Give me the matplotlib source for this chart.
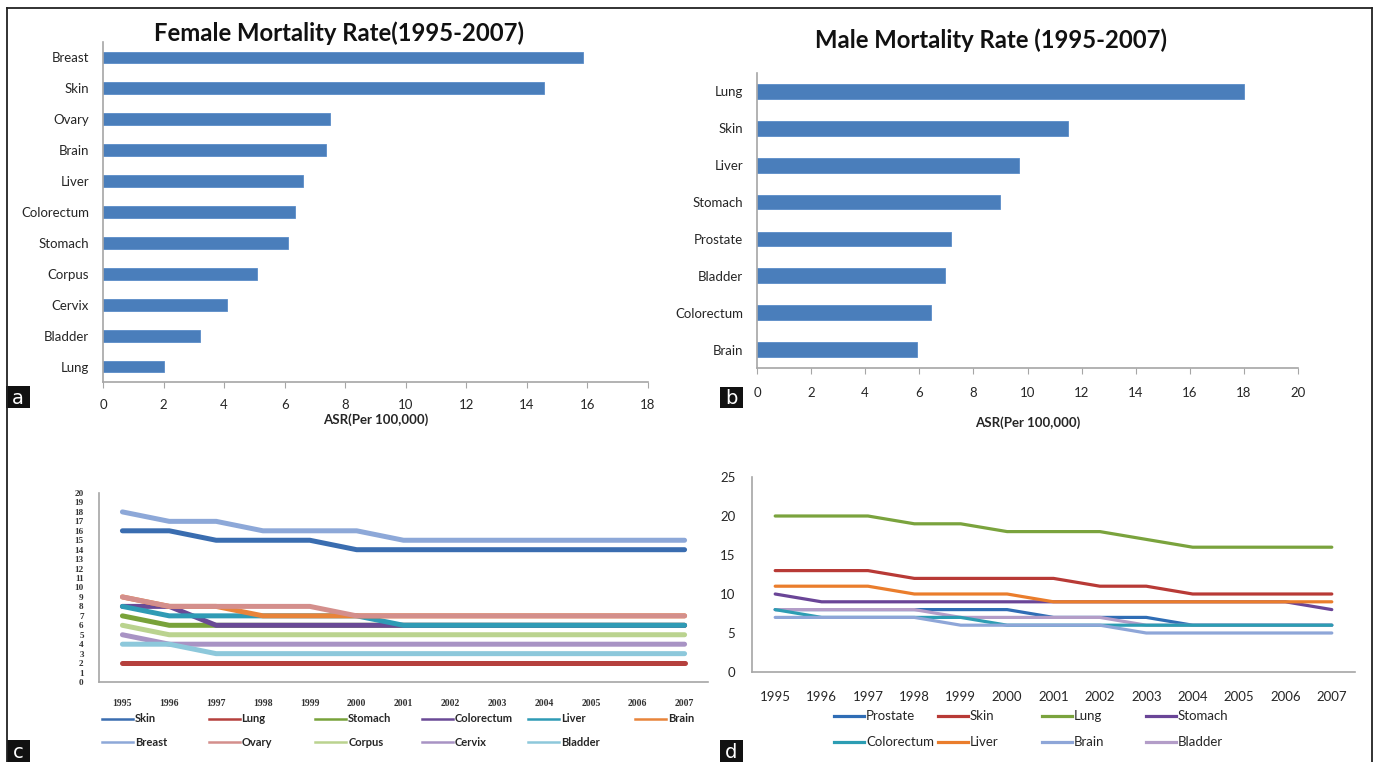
import matplotlib
matplotlib.use("Agg")
import matplotlib.pyplot as plt
from matplotlib.lines import Line2D
from matplotlib.patches import Rectangle

# ---------------- data ----------------
fem_sites = ["Breast", "Skin", "Ovary", "Brain", "Liver", "Colorectum", "Stomach",
             "Corpus", "Cervix", "Bladder", "Lung"]
fem_asr = [15.85, 14.55, 7.5, 7.35, 6.6, 6.35, 6.1, 5.1, 4.1, 3.2, 2.02]

male_sites = ["Lung", "Skin", "Liver", "Stomach", "Prostate", "Bladder", "Colorectum", "Brain"]
male_asr = [18.0, 11.5, 9.7, 9.0, 7.18, 6.95, 6.45, 5.92]

years = ["1995", "1996", "1997", "1998", "1999", "2000", "2001", "2002", "2003",
         "2004", "2005", "2006", "2007"]

fem_trend_names = ["Skin", "Lung", "Stomach", "Colorectum", "Liver", "Brain",
                   "Breast", "Ovary", "Corpus", "Cervix", "Bladder"]
c_skin = [16, 16, 15, 15, 15, 14, 14, 14, 14, 14, 14, 14, 14]
c_lung = [2, 2, 2, 2, 2, 2, 2, 2, 2, 2, 2, 2, 2]
c_stomach = [7, 6, 6, 6, 6, 6, 6, 6, 6, 6, 6, 6, 6]
c_colorectum = [8, 8, 6, 6, 6, 6, 6, 6, 6, 6, 6, 6, 6]
c_liver = [8, 7, 7, 7, 7, 7, 6, 6, 6, 6, 6, 6, 6]
c_brain = [9, 8, 8, 7, 7, 7, 7, 7, 7, 7, 7, 7, 7]
c_breast = [18, 17, 17, 16, 16, 16, 15, 15, 15, 15, 15, 15, 15]
c_ovary = [9, 8, 8, 8, 8, 7, 7, 7, 7, 7, 7, 7, 7]
c_corpus = [6, 5, 5, 5, 5, 5, 5, 5, 5, 5, 5, 5, 5]
c_cervix = [5, 4, 4, 4, 4, 4, 4, 4, 4, 4, 4, 4, 4]
c_bladder = [4, 4, 3, 3, 3, 3, 3, 3, 3, 3, 3, 3, 3]
fem_trend = [c_skin, c_lung, c_stomach, c_colorectum, c_liver, c_brain,
             c_breast, c_ovary, c_corpus, c_cervix, c_bladder]

male_trend_names = ["Prostate", "Skin", "Lung", "Stomach", "Colorectum", "Liver",
                    "Brain", "Bladder"]
d_prostate = [8, 8, 8, 8, 8, 8, 7, 7, 7, 6, 6, 6, 6]
d_skin = [13, 13, 13, 12, 12, 12, 12, 11, 11, 10, 10, 10, 10]
d_lung = [20, 20, 20, 19, 19, 18, 18, 18, 17, 16, 16, 16, 16]
d_stomach = [10, 9, 9, 9, 9, 9, 9, 9, 9, 9, 9, 9, 8]
d_colorectum = [8, 7, 7, 7, 7, 6, 6, 6, 6, 6, 6, 6, 6]
d_liver = [11, 11, 11, 10, 10, 10, 9, 9, 9, 9, 9, 9, 9]
d_brain = [7, 7, 7, 7, 6, 6, 6, 6, 5, 5, 5, 5, 5]
d_bladder = [8, 8, 8, 8, 7, 7, 7, 7, 6, 6, 6, 6, 6]
male_trend = [d_prostate, d_skin, d_lung, d_stomach, d_colorectum, d_liver,
              d_brain, d_bladder]

# ---------------- styles ----------------
W, H = 1376, 762
BAR = "#4A7EBB"
AXC = "#A6A6A6"
TXT = "#262626"
c_colors = ["#3A6DB0", "#B5403D", "#78A23A", "#6A4A96", "#2F9BB5", "#E8843A",
            "#8DA8D8", "#D48F8C", "#BAD38F", "#A893C4", "#8DC8DB"]
d_colors = ["#2F6DB5", "#B83A36", "#7AA33D", "#6A4597", "#2C9DB3", "#EA7D2C",
            "#8EA6D8", "#B39DC8"]
d_zorders = [2.0, 2.1, 2.2, 2.3, 2.6, 2.7, 2.8, 2.5]

plt.rcParams["font.family"] = ["Lato", "DejaVu Sans"]

fig = plt.figure(figsize=(W / 100, H / 100), dpi=100)
fig.patch.set_facecolor("white")


def rect(l, t, r, b):
    return [l / W, 1 - b / H, (r - l) / W, (b - t) / H]


def fx(x):
    return x / W


def fy(y):
    return 1 - y / H


def style_axes(ax):
    for s in ["top", "right"]:
        ax.spines[s].set_visible(False)
    for s in ["left", "bottom"]:
        ax.spines[s].set_color(AXC)
        ax.spines[s].set_linewidth(1.2)


# ---------------- panel a ----------------
axa = fig.add_axes(rect(103, 42, 648, 382))
ya = list(range(len(fem_sites)))
axa.barh(ya, fem_asr, height=0.38, color=BAR, edgecolor="#5B8CC8", linewidth=0.6)
axa.set_ylim(len(fem_sites) - 0.5, -0.5)
axa.set_yticks(ya)
axa.set_yticklabels(fem_sites, fontsize=9.5, color=TXT)
axa.set_xlim(0, 18)
axa.set_xticks(range(0, 19, 2))
axa.tick_params(axis="x", length=4, color=AXC, pad=8, labelsize=9.5, labelcolor=TXT)
axa.tick_params(axis="y", length=0, pad=10)
style_axes(axa)
axa.set_xlabel("ASR(Per 100,000)", fontsize=9.5, fontweight="bold", color=TXT, labelpad=2)
fig.text(fx(339), fy(33), "Female Mortality Rate(1995-2007)", ha="center", va="center",
         fontsize=17.2, fontweight="bold", color="#111111")

# ---------------- panel b ----------------
axb = fig.add_axes(rect(757, 73, 1298, 368))
yb = list(range(len(male_sites)))
axb.barh(yb, male_asr, height=0.40, color=BAR, edgecolor="#5B8CC8", linewidth=0.6)
axb.set_ylim(len(male_sites) - 0.5, -0.5)
axb.set_yticks(yb)
axb.set_yticklabels(male_sites, fontsize=9.5, color=TXT)
axb.set_xlim(0, 20)
axb.set_xticks(range(0, 21, 2))
axb.tick_params(axis="x", length=4, color=AXC, pad=10, labelsize=9.5, labelcolor=TXT)
axb.tick_params(axis="y", length=0, pad=10)
style_axes(axb)
axb.set_xlabel("ASR(Per 100,000)", fontsize=9.5, fontweight="bold", color=TXT, labelpad=12)
fig.text(fx(991), fy(40), "Male Mortality Rate (1995-2007)", ha="center", va="center",
         fontsize=17.2, fontweight="bold", color="#111111")

# ---------------- panel c ----------------
axc = fig.add_axes(rect(99, 493, 708, 682))
xc = list(range(len(years)))
for name, vals, col in zip(fem_trend_names, fem_trend, c_colors):
    axc.plot(xc, vals, color=col, linewidth=3.6, solid_capstyle="round",
             solid_joinstyle="round", label=name)
axc.set_xlim(-0.5, len(years) - 0.5)
axc.set_ylim(0, 20)
axc.set_xticks(xc)
axc.set_xticklabels(years)
axc.set_yticks(range(0, 21))
axc.tick_params(axis="both", length=0)
axc.tick_params(axis="x", pad=12)
axc.tick_params(axis="y", pad=11)
for lab in axc.get_xticklabels() + axc.get_yticklabels():
    lab.set_fontfamily("Liberation Serif")
    lab.set_fontweight("bold")
    lab.set_color("#333333")
for lab in axc.get_xticklabels():
    lab.set_fontsize(7)
for lab in axc.get_yticklabels():
    lab.set_fontsize(6.6)
style_axes(axc)

# legend c (manual, 6 columns x 2 rows)
for i, (name, col) in enumerate(zip(fem_trend_names, c_colors)):
    row, colidx = divmod(i, 6)
    x0 = 102 + colidx * 106.6
    yy = 719 + row * 23
    fig.add_artist(Line2D([fx(x0), fx(x0 + 31)], [fy(yy), fy(yy)], color=col,
                          linewidth=1.8, transform=fig.transFigure))
    fig.text(fx(x0 + 33), fy(yy), name, ha="left", va="center", fontsize=8,
             fontweight="bold", color=TXT)

# ---------------- panel d ----------------
axd = fig.add_axes(rect(752, 477, 1355, 672))
xd = list(range(len(years)))
for name, vals, col, z in zip(male_trend_names, male_trend, d_colors, d_zorders):
    axd.plot(xd, vals, color=col, linewidth=2.3, solid_capstyle="round",
             solid_joinstyle="round", label=name, zorder=z)
axd.set_xlim(-0.5, len(years) - 0.5)
axd.set_ylim(0, 25)
axd.set_xticks(xd)
axd.set_xticklabels(years)
axd.set_yticks(range(0, 26, 5))
axd.tick_params(axis="both", length=0, labelsize=9.5, labelcolor=TXT)
axd.tick_params(axis="x", pad=14)
axd.tick_params(axis="y", pad=12)
style_axes(axd)

for i, (name, col) in enumerate(zip(male_trend_names, d_colors)):
    row, colidx = divmod(i, 4)
    x0 = 834 + colidx * 104
    yy = 716 + row * 26
    fig.add_artist(Line2D([fx(x0), fx(x0 + 30)], [fy(yy), fy(yy)], color=col,
                          linewidth=2.3, transform=fig.transFigure))
    fig.text(fx(x0 + 32), fy(yy), name, ha="left", va="center", fontsize=9.5,
             color=TXT)

# ---------------- frame & panel letters ----------------
for (x1, y1, x2, y2) in [(7, 8, 1372, 8), (7, 8, 7, 762), (1372, 8, 1372, 762)]:
    fig.add_artist(Line2D([fx(x1), fx(x2)], [fy(y1), fy(y2)], color="#222222",
                          linewidth=1.3, transform=fig.transFigure))

for letter, (l, t, r, b) in zip(["a", "b", "c", "d"],
                                [(6, 386, 30, 408), (720, 387, 743, 408),
                                 (7, 740, 30, 762), (720, 740, 743, 762)]):
    fig.add_artist(Rectangle((fx(l), fy(b)), fx(r - l), (b - t) / H,
                             facecolor="#111111", edgecolor="none",
                             transform=fig.transFigure))
    fig.text(fx((l + r) / 2), fy((t + b) / 2 + 1), letter, ha="center", va="center",
             fontsize=14, color="white", fontfamily="DejaVu Sans")

fig.savefig("out.png", dpi=100, facecolor="white")
